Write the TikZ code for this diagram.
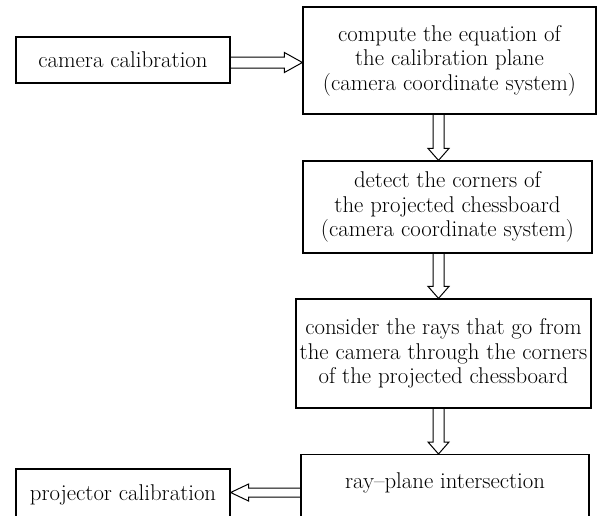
\documentclass[tikz,border=0pt]{standalone}
\usetikzlibrary{calc}
\begin{document}
\begin{tikzpicture}[x=1pt,y=-1pt,
  box/.style={draw, line width=1.2pt, inner sep=0pt, align=center, font=\fontsize{22.8}{24.5}\selectfont},
  txt/.style={inner sep=0pt, align=center, font=\fontsize{22.8}{24.5}\selectfont},
  arr/.style={draw, line width=1pt, line join=miter}]
\fill[white] (0,0) rectangle (604,515);
\useasboundingbox (0,0) rectangle (604,515);
\clip (0,0) rectangle (604,515);
% boxes
\node[box, minimum width=214pt, minimum height=46pt] (cam) at (123,60) {camera calibration};
\node[box, minimum width=293pt, minimum height=107pt] (comp) at (449.5,60.5)
  {compute the equation of\\the calibration plane\\(camera coordinate system)};
\node[box, minimum width=289pt, minimum height=92pt] (det) at (447.5,207)
  {detect the corners of\\the projected chessboard\\(camera coordinate system)};
\node[box, minimum width=295pt, minimum height=109pt] (cons) at (443.5,353.5)
  {consider the rays that go from\\the camera through the corners\\of the projected chessboard};
\node[box, minimum width=288pt, minimum height=120pt, anchor=north] (ray) at (445,454) {};
\node[txt] (raytxt) at (445,483) {ray--plane intersection};
\node[box, minimum width=214pt, minimum height=52pt] (proj) at (123,495) {projector calibration};
% helper coordinates
\coordinate (hy) at (0,62.5);
\coordinate (vx) at (438.5,0);
\coordinate (ly) at (0,492.5);
% cam -> comp
\draw[arr] let \p1=(cam.east |- hy), \p2=(comp.west |- hy) in
  (\x1,\y1+5.5pt) -- (\x2-18pt,\y1+5.5pt) -- (\x2-18pt,\y1+10pt) -- (\x2,\y2)
  -- (\x2-18pt,\y1-10pt) -- (\x2-18pt,\y1-5.5pt) -- (\x1,\y1-5.5pt);
% comp -> det
\draw[arr] let \p1=(comp.south -| vx), \p2=(det.north -| vx) in
  (\x1-5.5pt,\y1) -- (\x1-5.5pt,\y2+12pt) -- (\x1-10.5pt,\y2+12pt) -- (\x2,\y2)
  -- (\x1+10.5pt,\y2+12pt) -- (\x1+5.5pt,\y2+12pt) -- (\x1+5.5pt,\y1);
% det -> cons
\draw[arr] let \p1=(det.south -| vx), \p2=(cons.north -| vx) in
  (\x1-5.5pt,\y1) -- (\x1-5.5pt,\y2+12pt) -- (\x1-10.5pt,\y2+12pt) -- (\x2,\y2)
  -- (\x1+10.5pt,\y2+12pt) -- (\x1+5.5pt,\y2+12pt) -- (\x1+5.5pt,\y1);
% cons -> ray
\draw[arr] let \p1=(cons.south -| vx), \p2=(ray.north -| vx) in
  (\x1-5.5pt,\y1) -- (\x1-5.5pt,\y2+12pt) -- (\x1-10.5pt,\y2+12pt) -- (\x2,\y2)
  -- (\x1+10.5pt,\y2+12pt) -- (\x1+5.5pt,\y2+12pt) -- (\x1+5.5pt,\y1);
% ray -> proj
\draw[arr] let \p1=(ray.west |- ly), \p2=(proj.east |- ly) in
  (\x1,\y1+4.5pt) -- (\x2+18pt,\y1+4.5pt) -- (\x2+18pt,\y1+8.5pt) -- (\x2,\y2)
  -- (\x2+18pt,\y1-8.5pt) -- (\x2+18pt,\y1-4.5pt) -- (\x1,\y1-4.5pt);
\end{tikzpicture}
\end{document}
